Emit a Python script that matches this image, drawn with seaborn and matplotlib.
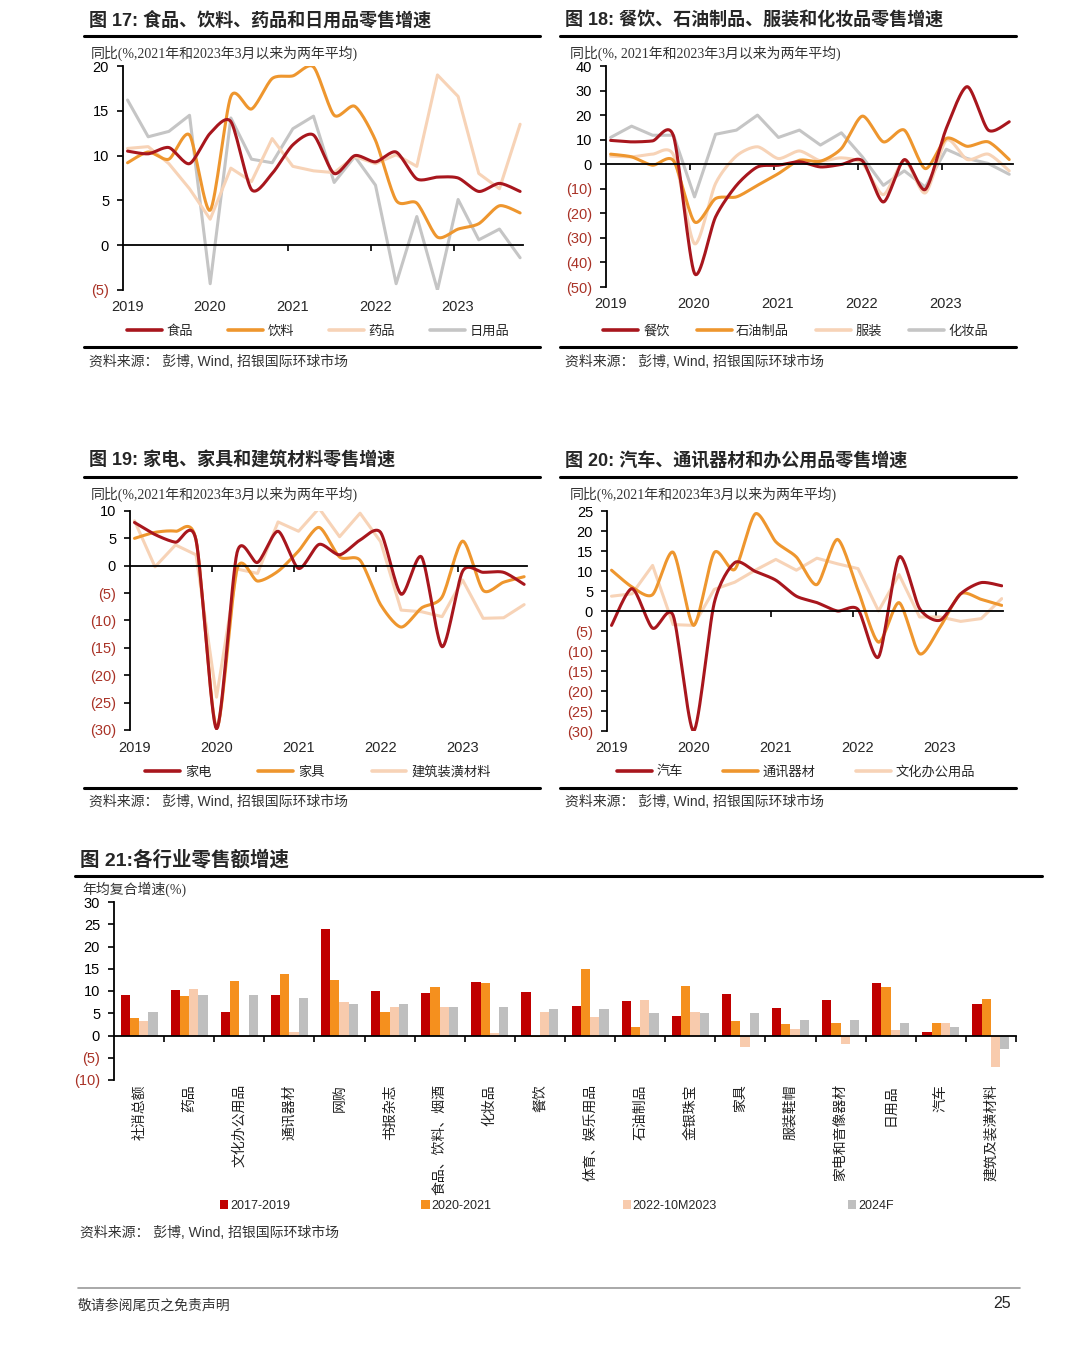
import numpy as np
import pandas as pd
import matplotlib
matplotlib.use("Agg")
import matplotlib.pyplot as plt
import matplotlib.transforms as mtrans
from matplotlib.lines import Line2D
import seaborn as sns

# ---------------- data ----------------
# quarterly points, Jan-2019 .. Oct-2023
dates = pd.date_range("2019-01-01", "2023-10-01", freq="QS")
year_labels = [2019, 2020, 2021, 2022, 2023]

# fig 17
food = [10.5, 10.2, 10.9, 9.1, 12.5, 13.8, 6.2, 8.0, 11.2, 12.3, 8.0, 10.0, 9.3, 10.4, 7.4, 7.6, 7.5, 6.0, 6.9, 6.0]
beverage = [9.2, 10.4, 9.6, 12.3, 3.9, 16.6, 15.2, 18.6, 18.9, 19.9, 14.5, 15.5, 11.7, 5.0, 4.7, 0.9, 1.8, 2.4, 4.4, 3.6]
medicine = [10.8, 11.0, 9.1, 6.3, 2.9, 8.6, 7.1, 11.9, 8.8, 8.3, 8.1, 9.9, 9.1, 10.1, 8.8, 19.0, 16.6, 8.0, 6.3, 13.5]
daily_use = [16.2, 12.1, 12.7, 14.5, -4.3, 14.2, 9.6, 9.2, 13.0, 14.4, 7.0, 9.9, 6.7, -4.3, 3.2, -5.0, 5.1, 0.6, 1.8, -1.4]

# fig 18
catering = [9.7, 9.1, 9.5, 11.4, -44.5, -21.5, -8.6, -1.1, -0.4, 1.0, -1.1, -0.1, 1.4, -15.4, 1.9, -10.3, 14.6, 31.6, 13.9, 17.3]
petroleum = [4.1, 3.0, -0.4, 1.4, -23.5, -14.0, -13.3, -8.6, -3.8, 1.6, 1.2, 6.4, 19.6, 9.1, 13.9, -1.8, 10.5, 7.3, 9.1, 1.9]
apparel = [3.3, 3.0, 4.1, 3.7, -32.4, -7.9, 3.4, 7.1, 2.3, 5.4, 1.4, 2.6, 0.3, -12.4, 1.6, -11.7, 9.8, 1.9, 4.1, -2.7]
cosmetics = [10.9, 15.5, 11.8, 11.8, -13.3, 12.2, 13.9, 20.0, 10.9, 13.9, 7.8, 12.8, 3.0, -8.6, -2.7, -9.3, 6.1, 2.3, 0.3, -4.1]

# fig 19
appliances = [7.9, 5.7, 4.3, 4.7, -29.8, 2.4, 0.6, 6.3, -0.5, 3.9, 2.0, 4.7, 6.1, -5.2, 1.6, -14.8, -1.0, -1.2, -1.2, -3.4]
furniture = [5.0, 6.1, 6.3, 4.7, -29.6, -0.6, -2.8, -1.0, 2.7, 7.0, 1.6, 1.0, -7.1, -11.2, -7.7, -5.7, 4.5, -4.5, -3.0, -2.0]
building = [8.2, -0.2, 3.8, 2.0, -24.0, -0.6, -1.4, 8.0, 6.3, 10.5, 5.3, 9.6, 4.4, -8.1, -8.4, -9.3, -2.6, -9.6, -9.5, -7.1]

# fig 20
autos = [-3.6, 5.6, -4.3, -1.1, -30.0, 2.0, 12.1, 9.9, 7.7, 3.7, 2.1, 0.0, 0.4, -11.5, 13.5, 0.6, -2.3, 4.3, 7.1, 6.3]
telecom = [10.2, 6.0, 4.1, 14.7, -3.6, 14.6, 10.4, 24.3, 17.3, 13.5, 6.6, 17.9, 5.2, -7.8, 2.1, -10.7, -4.0, 4.3, 2.9, 1.4]
office = [3.7, 4.3, 11.4, -3.4, -3.6, 5.4, 7.2, 10.2, 12.9, 10.2, 13.2, 11.8, 10.6, 0.0, 9.1, -1.5, -1.5, -2.6, -1.9, 3.1]

# fig 21
industries = ["社消总额", "药品", "文化办公用品", "通讯器材", "网购", "书报杂志", "食品、饮料、烟酒",
              "化妆品", "餐饮", "体育、娱乐用品", "石油制品", "金银珠宝", "家具", "服装鞋帽",
              "家电和音像器材", "日用品", "汽车", "建筑及装潢材料"]
periods = ["2017-2019", "2020-2021", "2022-10M2023", "2024F"]
g_2017_2019 = [9.0, 10.2, 5.3, 9.0, 24.0, 10.0, 9.6, 12.0, 9.8, 6.7, 7.8, 4.4, 9.3, 6.2, 7.9, 11.9, 0.7, 7.0]
g_2020_2021 = [3.9, 8.8, 12.2, 13.8, 12.5, 5.3, 11.0, 11.7, -0.4, 15.0, 1.8, 11.2, 3.2, 2.6, 2.9, 10.9, 2.7, 8.2]
g_2022_2023 = [3.3, 10.5, -0.4, 0.7, 7.5, 6.3, 6.4, 0.5, 5.3, 4.1, 8.0, 5.3, -2.5, 1.4, -1.9, 1.3, 2.9, -7.0]
g_2024f = [5.3, 9.0, 9.0, 8.4, 7.0, 7.0, 6.4, 6.4, 6.0, 6.0, 5.0, 5.0, 5.0, 3.5, 3.5, 2.9, 1.9, -3.0]

RED, ORANGE, BEIGE, GRAY = "#A8161D", "#EE962E", "#F7D3B7", "#C5C5C5"
BAR_COLORS = ["#C00000", "#F5901E", "#F8CBAD", "#BFBFBF"]
NEG = "#A93226"

# ---------------- setup ----------------
sns.set_style("white")
plt.rcParams["font.family"] = ["Liberation Sans", "Noto Sans CJK SC"]
plt.rcParams["axes.unicode_minus"] = False

W, H = 1080, 1357
fig = plt.figure(figsize=(W / 100, H / 100), dpi=100)
fig.patch.set_facecolor("white")


def fx(x):
    return x / W


def fy(y):
    return 1 - y / H


def add_ax(l, t, r, b):
    return fig.add_axes([fx(l), fy(b), (r - l) / W, (b - t) / H])


def rule(y, x0, x1, lw=2.2, color="black"):
    fig.add_artist(Line2D([fx(x0), fx(x1)], [fy(y), fy(y)], transform=fig.transFigure, lw=lw, color=color))


def smooth(x, y, n=16, s=0.38):
    # smoothed line through the data points (cardinal spline, like excel's "smoothed line")
    x = np.asarray(x, float)
    y = np.asarray(y, float)
    px = np.r_[x[0], x, x[-1]]
    py = np.r_[y[0], y, y[-1]]
    t = np.linspace(0, 1, n, endpoint=False)
    h00 = 2 * t ** 3 - 3 * t ** 2 + 1
    h10 = t ** 3 - 2 * t ** 2 + t
    h01 = -2 * t ** 3 + 3 * t ** 2
    h11 = t ** 3 - t ** 2
    xs, ys = [], []
    for j in range(len(x) - 1):
        for arr, out in ((px, xs), (py, ys)):
            p0, p1, p2, p3 = arr[j:j + 4]
            m1 = s * (p2 - p0)
            m2 = s * (p3 - p1)
            out.append(h00 * p1 + h10 * m1 + h01 * p2 + h11 * m2)
    xs.append([x[-1]])
    ys.append([y[-1]])
    return np.concatenate(xs), np.concatenate(ys)


def fmt(v):
    return f"({-v:g})" if v < 0 else f"{v:g}"


def style_y(ax, lo, hi, step):
    ticks = np.arange(lo, hi + step / 2, step)
    ax.set_yticks(ticks)
    labs = ax.set_yticklabels([fmt(v) for v in ticks])
    for lab, v in zip(labs, ticks):
        lab.set_color(NEG if v < 0 else "black")
    ax.set_ylim(lo, hi)
    ax.tick_params(axis="y", left=True, direction="out", length=4, width=1.2, pad=6, labelsize=10.5, color="black")
    for s in ["top", "right"]:
        ax.spines[s].set_visible(False)
    for s in ["left", "bottom"]:
        ax.spines[s].set_color("black")
        ax.spines[s].set_linewidth(1.3)
    ax.spines["bottom"].set_position(("data", 0))
    ax.set_xlabel("")
    ax.set_ylabel("")
    ax.set_facecolor("white")


def header(x, y, title, ylabel, lx, ly, rx0, rx1, size=13):
    fig.text(fx(x), fy(y), title, fontsize=size, fontweight="bold", va="center", ha="left",
             family=["Liberation Sans", "Noto Sans CJK SC"])
    rule(y + 16, rx0, rx1)
    fig.text(fx(lx), fy(ly), ylabel, fontsize=10, va="center", ha="left", color="#333333",
             family=["Liberation Serif", "Noto Sans CJK SC"])


def source(x, y):
    fig.text(fx(x), fy(y), "资料来源： 彭博, Wind, 招银国际环球市场", fontsize=10, va="center", ha="left",
             color="#333333", family=["Liberation Sans", "Noto Sans CJK SC"])


xpos = dates.year + (dates.month - 1) / 12 + 0.055


def line_panel(box, series, lo, hi, step, xmax, year_y, leg_xy, leg_gap):
    ax = add_ax(*box)
    for label, vals, color, curved in reversed(series):
        xs, ys = smooth(xpos, vals) if curved else (np.asarray(xpos), np.asarray(vals))
        sns.lineplot(x=xs, y=ys, ax=ax, color=color, lw=2.2, sort=False, estimator=None)
    ax.set_xlim(2019, xmax)
    style_y(ax, lo, hi, step)
    ax.set_xticks(year_labels[1:])
    ax.set_xticklabels([])
    ax.tick_params(axis="x", bottom=True, direction="out", length=4, width=1.2, color="black")
    tr = mtrans.blended_transform_factory(ax.transData, fig.transFigure)
    for yr in year_labels:
        ax.text(yr + 0.05, fy(year_y), str(yr), transform=tr, ha="center", va="center", fontsize=10.5)
    handles = [Line2D([], [], color=c, lw=2.6) for _, _, c, _ in series]
    ax.legend(handles, [s[0] for s in series], loc="center", bbox_to_anchor=(fx(leg_xy[0]), fy(leg_xy[1])),
              bbox_transform=fig.transFigure, ncol=len(series), frameon=False,
              prop={"family": "Noto Sans CJK SC", "size": 9.5}, handlelength=2.65, handletextpad=0.35,
              columnspacing=leg_gap / 13.2, borderpad=0, borderaxespad=0)
    return ax


# ---------------- fig 17 ----------------
header(89, 20, "图 17: 食品、饮料、药品和日用品零售增速", "同比(%,2021年和2023年3月以来为两年平均)", 91, 53, 84, 540)
line_panel((123, 66, 523, 290),
           [("食品", food, RED, True), ("饮料", beverage, ORANGE, True),
            ("药品", medicine, BEIGE, False), ("日用品", daily_use, GRAY, False)],
           -5, 20, 5, 2023.84, 307, (318, 331), 35)
rule(347, 84, 540)
source(89, 362)

# ---------------- fig 18 ----------------
header(565, 20, "图 18: 餐饮、石油制品、服装和化妆品零售增速", "同比(%, 2021年和2023年3月以来为两年平均)", 570, 53, 560, 1016)
line_panel((606, 66, 1013, 287),
           [("餐饮", catering, RED, True), ("石油制品", petroleum, ORANGE, True),
            ("服装", apparel, BEIGE, True), ("化妆品", cosmetics, GRAY, False)],
           -50, 40, 10, 2023.85, 304, (796, 331), 27)
rule(347, 560, 1016)
source(565, 362)

# ---------------- fig 19 ----------------
header(89, 461, "图 19: 家电、家具和建筑材料零售增速", "同比(%,2021年和2023年3月以来为两年平均)", 91, 494, 84, 540)
line_panel((130, 511, 527, 730),
           [("家电", appliances, RED, True), ("家具", furniture, ORANGE, True),
            ("建筑装潢材料", building, BEIGE, False)],
           -30, 10, 5, 2023.84, 748, (318, 772), 47)
rule(788, 84, 540)
source(89, 802)

# ---------------- fig 20 ----------------
header(565, 461, "图 20: 汽车、通讯器材和办公用品零售增速", "同比(%,2021年和2023年3月以来为两年平均)", 570, 494, 560, 1016)
line_panel((607, 511, 1003, 731),
           [("汽车", autos, RED, True), ("通讯器材", telecom, ORANGE, True),
            ("文化办公用品", office, BEIGE, False)],
           -30, 25, 5, 2023.82, 748, (796, 772), 40)
rule(788, 560, 1016)
source(565, 802)

# ---------------- fig 21 ----------------
header(80, 860, "图 21:各行业零售额增速", "年均复合增速(%)", 82, 889, 75, 1042, size=14)
wide = pd.DataFrame({"行业": industries, periods[0]: g_2017_2019, periods[1]: g_2020_2021,
                     periods[2]: g_2022_2023, periods[3]: g_2024f})
long = wide.melt(id_vars="行业", var_name="期间", value_name="增速")

axb = add_ax(114, 902, 1016, 1080)
sns.barplot(data=long, x="行业", y="增速", hue="期间", hue_order=periods, order=industries,
            palette=BAR_COLORS, width=0.74, gap=0, saturation=1, linewidth=0, ax=axb)
axb.set_xlim(-0.5, len(industries) - 0.5)
style_y(axb, -10, 30, 5)
axb.set_xticks(np.arange(len(industries)) + 0.5, minor=True)
axb.tick_params(axis="x", which="major", length=0, labelbottom=False)
axb.tick_params(axis="x", which="minor", bottom=True, direction="out", length=4, width=1.2, color="black")
trb = mtrans.blended_transform_factory(axb.transData, fig.transFigure)
for i, name in enumerate(industries):
    axb.text(i, fy(1084), name, transform=trb, rotation=90, ha="center", va="top", fontsize=10,
             family=["Noto Sans CJK SC"], color="#222222")
h, l = axb.get_legend_handles_labels()
axb.legend(h, l, loc="center", bbox_to_anchor=(fx(557), fy(1206)), bbox_transform=fig.transFigure,
           ncol=4, frameon=False, fontsize=9, handlelength=0.65, handleheight=0.65, handletextpad=0.15,
           columnspacing=10.5, borderpad=0, borderaxespad=0)
source(80, 1233)

# ---------------- footer ----------------
rule(1288, 78, 1020, lw=1.2, color="#9A9A9A")
fig.text(fx(78), fy(1306), "敬请参阅尾页之免责声明", fontsize=10, va="center", ha="left", color="#333333",
         family=["Noto Sans CJK SC"])
fig.text(fx(1011), fy(1304), "25", fontsize=11.5, va="center", ha="right")

fig.savefig("out.png", dpi=100, facecolor="white")
